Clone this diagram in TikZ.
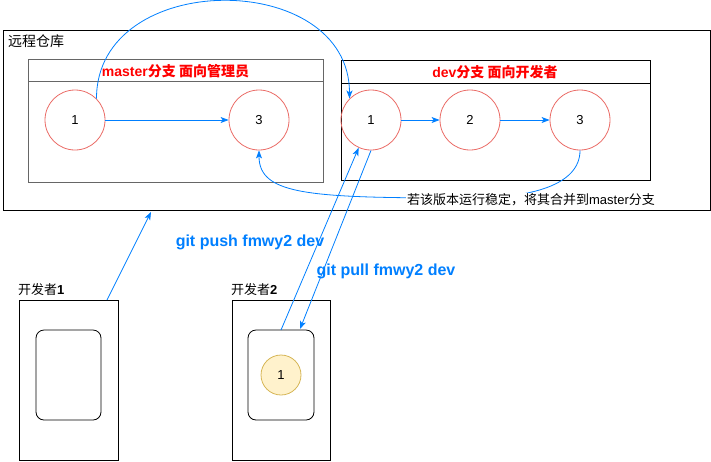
\documentclass[tikz,border=0pt]{standalone}
\usepackage{fontspec}
\setmainfont{Liberation Sans}
\newfontfamily\cjk{Noto Sans CJK SC}
\usetikzlibrary{arrows.meta,calc}
\definecolor{arrblue}{RGB}{0,127,255}
\definecolor{circred}{HTML}{EA6B66}
\definecolor{boxgray}{HTML}{666666}
\definecolor{yfill}{HTML}{FFF2CC}
\definecolor{ydraw}{HTML}{D6B656}
\tikzset{
  box/.style={draw=black, line width=0.8pt, anchor=north west, inner sep=0pt, outer sep=0pt},
  commit/.style={circle, draw=circred, line width=0.8pt, minimum size=60pt, inner sep=0pt, font=\fontsize{13}{15}\selectfont},
  arr/.style={draw=arrblue, line width=0.8pt, -{Stealth[length=8pt,width=6pt,inset=2pt]}},
  redlbl/.style={text=red, font=\fontsize{14}{16}\selectfont\bfseries},
  bluelbl/.style={text=arrblue, font=\fontsize{16}{18}\selectfont\bfseries},
  blacklbl/.style={text=black, font=\fontsize{13}{15}\selectfont}
}
\begin{document}
\begin{tikzpicture}[x=1pt,y=-1pt]
\useasboundingbox (0,0) rectangle (711,461);
% remote repository
\node[box, minimum width=707pt, minimum height=180pt] (remote) at (3,30) {};
\node[blacklbl, font=\fontsize{14}{16}\selectfont, anchor=west, inner sep=0pt] (rtitle) at (8,41) {\cjk 远程仓库};
% master branch box
\node[box, draw=boxgray, line width=1pt, minimum width=295pt, minimum height=123pt] (mbox) at (28,59) {};
\draw[draw=boxgray, line width=1pt] ($(mbox.north west)+(0,22)$) -- ($(mbox.north east)+(0,22)$);
\node[redlbl] (mlbl) at (175.5,71) {master{\cjk 分支 面向管理员}};
% dev branch box
\node[box, minimum width=309pt, minimum height=120pt] (dbox) at (341,60) {};
\draw[line width=0.8pt] ($(dbox.north west)+(0,23)$) -- ($(dbox.north east)+(0,23)$);
\node[redlbl] (dlbl) at (495,72) {dev{\cjk 分支 面向开发者}};
% commits
\node[commit] (m1) at (75,120) {1};
\node[commit] (m3) at (259,120) {3};
\node[commit] (dv1) at (371,120) {1};
\node[commit] (dv2) at (470,120) {2};
\node[commit] (dv3) at (580,120) {3};
\draw[arr] (m1) -- (m3);
\draw[arr] (dv1) -- (dv2);
\draw[arr] (dv2) -- (dv3);
% top curve
\draw[arr] (m1.45) .. controls +(0,-130) and +(0,-130) .. (dv1.135);
% merge curve
\coordinate (mid) at (470,198);
\draw[draw=arrblue, line width=0.8pt] (dv3.south) .. controls +(0,35) and +(60,0) .. (mid);
\draw[arr] (mid) .. controls +(-160,0) and +(0,45) .. (m3.south);
\node[blacklbl, fill=white, inner sep=1pt] (mlabel) at (531,200) {{\cjk 若该版本运行稳定，将其合并到}master{\cjk 分支}};
% developers
\node[box, minimum width=99pt, minimum height=160pt] (dev1) at (19,300) {};
\node[box, rounded corners=8pt, minimum width=65pt, minimum height=90pt] (in1) at (36,330) {};
\node[blacklbl, anchor=west, inner sep=0pt] (dev1lbl) at (18,290) {{\cjk 开发者}\textbf{1}};
\node[box, minimum width=98pt, minimum height=160pt] (dev2) at (232,300) {};
\node[box, rounded corners=8pt, minimum width=66pt, minimum height=90pt] (in2) at (248,330) {};
\node[blacklbl, anchor=west, inner sep=0pt] (dev2lbl) at (231,290) {{\cjk 开发者}\textbf{2}};
\node[circle, draw=ydraw, fill=yfill, line width=0.8pt, minimum size=40pt, inner sep=0pt, font=\fontsize{13}{15}\selectfont] (y1) at (281,375) {1};
% push / pull
\coordinate (p1start) at ($(dev1.north west)+(88,0)$);
\coordinate (p1end) at ($(remote.south west)+(148,2)$);
\draw[arr] (p1start) -- (p1end);
\draw[arr] (in2.north) -- (dv1.246);
\coordinate (pullend) at ($(in2.north west)+(52,-1)$);
\draw[arr] (dv1.south) -- (pullend);
\node[bluelbl] (pushlbl) at (250,242) {git push fmwy2 dev};
\node[bluelbl] (pulllbl) at (386,271) {git pull fmwy2 dev};
\end{tikzpicture}
\end{document}
